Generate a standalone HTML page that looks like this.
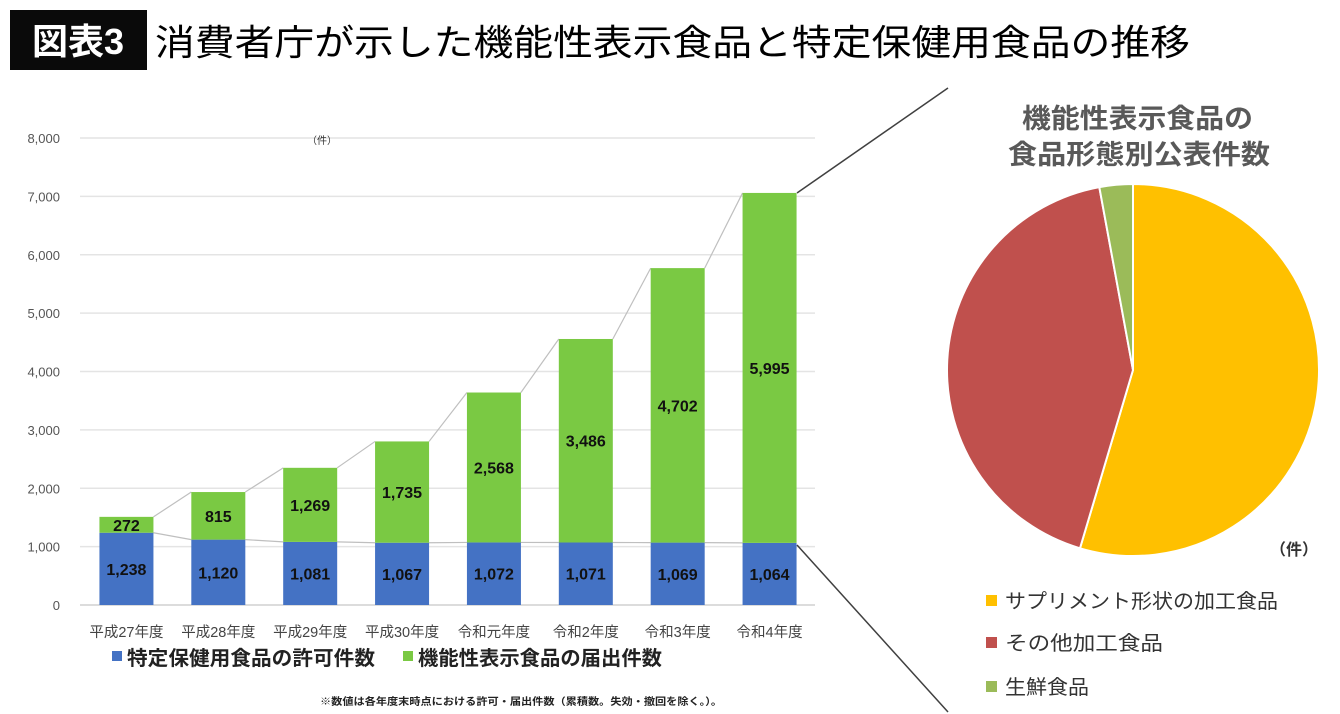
<!DOCTYPE html>
<html><head><meta charset="utf-8"><style>
html,body{margin:0;padding:0;background:#fff;}
body{width:1340px;height:714px;overflow:hidden;position:relative;font-family:"Liberation Sans","Noto Sans CJK JP",sans-serif;}
</style></head><body>
<svg width="1340" height="714" viewBox="0 0 1340 714" xmlns="http://www.w3.org/2000/svg" style="position:absolute;left:0;top:0" font-family="Liberation Sans, Noto Sans CJK JP, sans-serif">
<g>
<rect x="10" y="10" width="137" height="60" fill="#0a0a0a"/>
<text x="78" y="54" fill="#fff" font-size="36" text-anchor="middle" font-weight="bold">図表3</text>
<text x="155" y="55" fill="#000" font-size="36" textLength="1035" lengthAdjust="spacingAndGlyphs">消費者庁が示した機能性表示食品と特定保健用食品の推移</text>
</g>
<g id="bar-chart"></g>
<g id="pie-chart"></g>
<text x="1022" y="128" font-size="27" fill="#595959" font-weight="bold" textLength="231" lengthAdjust="spacingAndGlyphs">機能性表示食品の</text>
<text x="1008" y="164" font-size="27" fill="#595959" font-weight="bold" textLength="262" lengthAdjust="spacingAndGlyphs">食品形態別公表件数</text>
<text x="1270" y="555" font-size="16" fill="#333" font-weight="bold">（件）</text>
<text x="307" y="144" font-size="10" fill="#333">（件）</text>
<line x1="797" y1="193" x2="948" y2="88" stroke="#404040" stroke-width="1.5"/>
<line x1="797" y1="545" x2="948" y2="712" stroke="#404040" stroke-width="1.5"/>
<g>
<rect x="112" y="651" width="10" height="10" fill="#4472c4"/>
<text x="127" y="665" font-size="20" font-weight="bold" fill="#222" textLength="248" lengthAdjust="spacingAndGlyphs">特定保健用食品の許可件数</text>
<rect x="403" y="651" width="10" height="10" fill="#7ac943"/>
<text x="418" y="665" font-size="20" font-weight="bold" fill="#222" textLength="244" lengthAdjust="spacingAndGlyphs">機能性表示食品の届出件数</text>
</g>
<text x="320" y="705" font-size="10" fill="#222" font-weight="bold" textLength="402" lengthAdjust="spacingAndGlyphs">※数値は各年度末時点における許可・届出件数（累積数。失効・撤回を除く。）。</text>
<g>
<rect x="986" y="595" width="11" height="11" fill="#ffc000"/>
<text x="1005" y="608" font-size="20" fill="#333" textLength="273" lengthAdjust="spacingAndGlyphs">サプリメント形状の加工食品</text>
<rect x="986" y="637" width="11" height="11" fill="#c0504d"/>
<text x="1005" y="650" font-size="20" fill="#333" textLength="158" lengthAdjust="spacingAndGlyphs">その他加工食品</text>
<rect x="986" y="681" width="11" height="11" fill="#9bbb59"/>
<text x="1005" y="694" font-size="20" fill="#333" textLength="84" lengthAdjust="spacingAndGlyphs">生鮮食品</text>
</g>
</svg>
<script>
const categories=["平成27年度","平成28年度","平成29年度","平成30年度","令和元年度","令和2年度","令和3年度","令和4年度"];
const tokuho=[1238,1120,1081,1067,1072,1071,1069,1064];
const kinousei=[272,815,1269,1735,2568,3486,4702,5995];
const yTicks=[0,1000,2000,3000,4000,5000,6000,7000,8000];
const yTickLabels=["0","1,000","2,000","3,000","4,000","5,000","6,000","7,000","8,000"];
const pieLabels=["サプリメント形状の加工食品","その他加工食品","生鮮食品"];
const pieValues=[54.6,42.5,2.9];
const pieColors=["#ffc000","#c0504d","#9bbb59"];

const NS="http://www.w3.org/2000/svg";
function mk(tag,attrs,parent){const e=document.createElementNS(NS,tag);for(const k in attrs)e.setAttribute(k,attrs[k]);parent.appendChild(e);return e;}
const y0=605,yTop=138,xL=80,xR=815;
function yS(v){return y0-(v/8000)*(y0-yTop);}
const step=(xR-xL)/categories.length;
function xC(i){return xL+step*(i+0.5)+0.5;}
const bw=54;
const bc=document.getElementById('bar-chart');
yTicks.forEach((t,i)=>{
  const l=mk('line',{x1:xL,x2:xR,y1:yS(t),y2:yS(t),stroke:i==0?'#d0d0d0':'#e4e4e4','stroke-width':1.5},bc);
  
  
  const tx=mk('text',{x:60,y:yS(t)+5,'font-size':13,fill:'#555','text-anchor':'end'},bc);
  tx.textContent=yTickLabels[i];
  
  
});
for(let i=0;i<categories.length-1;i++){
  const a=mk('line',{x1:xC(i)+bw/2,y1:yS(tokuho[i]+kinousei[i]),x2:xC(i+1)-bw/2,y2:yS(tokuho[i+1]+kinousei[i+1]),stroke:'#bfbfbf','stroke-width':1.2},bc);
  
  
  const b=mk('line',{x1:xC(i)+bw/2,y1:yS(tokuho[i]),x2:xC(i+1)-bw/2,y2:yS(tokuho[i+1]),stroke:'#bfbfbf','stroke-width':1.2},bc);
  
  
}
categories.forEach((c,i)=>{
  const x=xC(i)-bw/2;
  const r1=mk('rect',{x:x,y:yS(tokuho[i]),width:bw,height:y0-yS(tokuho[i]),fill:'#4472c4'},bc);
  
  
  const top=yS(tokuho[i]+kinousei[i]);
  const r2=mk('rect',{x:x,y:top,width:bw,height:yS(tokuho[i])-top,fill:'#7ac943'},bc);
  
  
  const t1=mk('text',{x:xC(i),y:(yS(tokuho[i])+y0)/2+6,'font-size':16,'font-weight':'bold',fill:'#111','text-anchor':'middle'},bc);
  t1.textContent=tokuho[i].toLocaleString('en-US');
  
  
  const t2=mk('text',{x:xC(i),y:(top+yS(tokuho[i]))/2+6,'font-size':16,'font-weight':'bold',fill:'#111','text-anchor':'middle'},bc);
  t2.textContent=kinousei[i].toLocaleString('en-US');
  
  
  const cl=mk('text',{x:xC(i),y:637,'font-size':14.5,fill:'#444','text-anchor':'middle'},bc);
  cl.textContent=c;
  
  
});
const pc=document.getElementById('pie-chart');
const cx=1133,cy=370,R=186;
const total=pieValues.reduce((a,b)=>a+b,0);
let ang=0;
pieValues.forEach((v,i)=>{
  const a0=ang,a1=ang+v/total*2*Math.PI;ang=a1;
  const p0=[cx+R*Math.sin(a0),cy-R*Math.cos(a0)],p1=[cx+R*Math.sin(a1),cy-R*Math.cos(a1)];
  const large=(a1-a0)>Math.PI?1:0;
  const p=mk('path',{d:`M${cx},${cy}L${p0[0]},${p0[1]}A${R},${R} 0 ${large} 1 ${p1[0]},${p1[1]}Z`,fill:pieColors[i],stroke:'#fff','stroke-width':2},pc);
  
  
});
</script>
</body></html>
